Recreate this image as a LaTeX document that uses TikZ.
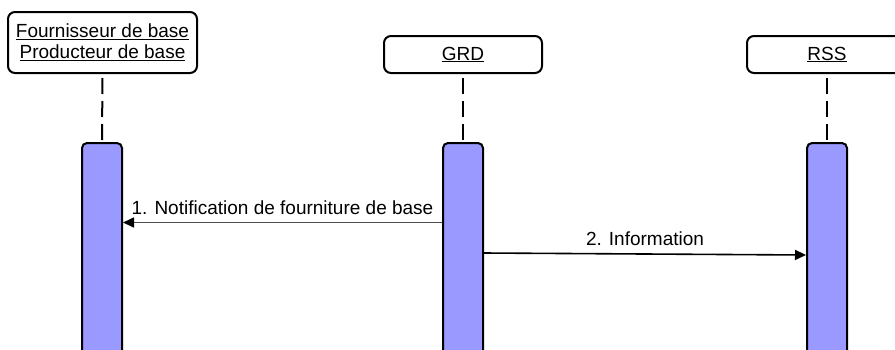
\documentclass[tikz,border=0pt]{standalone}
\usepackage{fontspec}
\setmainfont{Liberation Sans}
\usetikzlibrary{arrows.meta}

\definecolor{barblue}{RGB}{153,153,255}

\tikzset{
    head/.style={draw, line width=2pt, rounded corners=7pt, align=center, inner sep=0pt},
    actbar/.style={draw, line width=2pt, rounded corners=5pt, fill=barblue, minimum width=40pt, minimum height=240pt, inner sep=0pt},
    life/.style={line width=2pt, dash pattern=on 16pt off 7pt, dash phase=19pt},
    msg/.style={line width=1.6pt, -{Triangle[length=11pt,width=10pt,black]}},
    msglabel/.style={above=7.5pt, inner sep=0pt}
}

\begin{document}
\begin{tikzpicture}[x=1pt, y=-1pt, font=\fontsize{19}{21}\selectfont]
        \clip (0,0) rectangle (895,349);

        % lifeline heads
        \node[head, minimum width=189pt, minimum height=61pt] (fb) at (102.5,42.5) {\underline{Fournisseur de base}\\\underline{Producteur de base}};
        \node[head, minimum width=158pt, minimum height=37pt] (grd) at (463,54.5) {\underline{GRD}};
        \node[head, minimum width=160pt, minimum height=37pt] (rss) at (827,54.5) {\underline{RSS}};

        % activation bars
        \node[actbar] (barF) at (102,263) {};
        \node[actbar] (barG) at (463,263) {};
        \node[actbar] (barR) at (827,263) {};

        \draw[life] (fb.south) -- (barF.north);
        \draw[life] (grd.south) -- (barG.north);
        \draw[life] (rss.south) -- (barR.north);

        % messages
        \coordinate (m1s) at (barG.west |- 0,222.5);
        \coordinate (m1e) at (barF.east |- 0,222.5);
        \coordinate (m2s) at (barG.east |- 0,253);
        \coordinate (m2e) at (barR.west |- 0,255);

        \draw[msg, draw=black!70] (m1s) -- node[msglabel] (l1) {1. Notification de fourniture de base} (m1e);
        \draw[msg] (m2s) -- node[msglabel] (l2) {2. Information} (m2e);
    \end{tikzpicture}
\end{document}
